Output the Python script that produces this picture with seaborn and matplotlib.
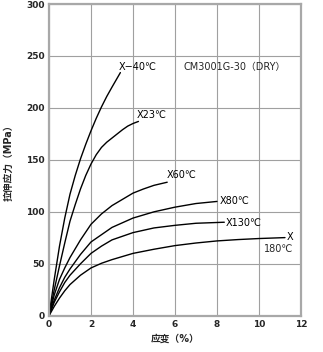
import matplotlib.pyplot as plt
import seaborn as sns
import pandas as pd

# strain (%) / stress (MPa), one pair of lists per temperature
strain_m40 = [0, 0.25, 0.5, 0.75, 1.0, 1.25, 1.5, 1.75, 2.0, 2.25, 2.5, 2.75, 3.0, 3.2, 3.4]
stress_m40 = [0, 35, 67, 94, 117, 135, 151, 165, 178, 190, 201, 211, 220, 227, 234]

strain_23 = [0, 0.25, 0.5, 0.75, 1.0, 1.25, 1.5, 1.75, 2.0, 2.25, 2.5, 2.75, 3.0, 3.25, 3.5, 3.75, 4.0, 4.26]
stress_23 = [0, 25, 48, 70, 91, 107, 122, 135, 146, 155, 162, 167, 171, 175, 179, 182.5, 185, 187]

strain_60 = [0, 0.25, 0.5, 0.75, 1.0, 1.5, 2.0, 2.5, 3.0, 3.5, 4.0, 4.5, 5.0, 5.63]
stress_60 = [0, 20, 35, 46, 56, 73, 88, 98, 106, 112, 118, 122, 125.5, 128.5]

strain_80 = [0, 0.25, 0.5, 0.75, 1.0, 1.5, 2.0, 2.5, 3.0, 4.0, 5.0, 6.0, 7.0, 8.0]
stress_80 = [0, 15, 27, 37, 45, 59, 71, 78, 85, 94, 100, 104.5, 108, 110]

strain_130 = [0, 0.25, 0.5, 0.75, 1.0, 1.5, 2.0, 2.5, 3.0, 4.0, 5.0, 6.0, 7.0, 8.35]
stress_130 = [0, 13, 23, 32, 39, 50, 60, 67, 73, 80, 84.5, 87, 89, 90]

strain_180 = [0, 0.25, 0.5, 0.75, 1.0, 1.5, 2.0, 2.5, 3.0, 4.0, 5.0, 6.0, 7.0, 8.0, 9.0, 10.0, 11.24]
stress_180 = [0, 9, 17, 24, 30, 39, 46, 50.5, 54, 60, 64, 67.5, 70, 72, 73.3, 74.3, 75.2]

series = {
    "-40": (strain_m40, stress_m40),
    "23": (strain_23, stress_23),
    "60": (strain_60, stress_60),
    "80": (strain_80, stress_80),
    "130": (strain_130, stress_130),
    "180": (strain_180, stress_180),
}

title = "CM3001G-30\uff08DRY\uff09"
x_label = "\u5e94\u53d8\uff08%\uff09"
y_label = "\u62c9\u4f38\u5e94\u529b\uff08MPa\uff09"

sns.set_style("white")
plt.rcParams['font.family'] = ['DejaVu Sans', 'Noto Sans CJK SC']

fig = plt.figure(figsize=(3.23, 3.52), dpi=100)
ax = fig.add_axes([0.1517, 0.103, 0.780, 0.8856])

for name, (xs, ys) in series.items():
    df = pd.DataFrame({"strain": xs, "stress": ys})
    sns.lineplot(x="strain", y="stress", data=df, ax=ax, color="black",
                 linewidth=1.0, sort=False, estimator=None)

# curve end labels
lab_kw = dict(fontsize=7, va="center", ha="left", color="black")
ax.text(3.33, 239, "X\u221240\u2103", **lab_kw)
ax.text(4.2, 193, "X23\u2103", **lab_kw)
ax.text(5.6, 135, "X60\u2103", **lab_kw)
ax.text(8.15, 110.7, "X80\u2103", **lab_kw)
ax.text(8.42, 89.7, "X130\u2103", **lab_kw)
ax.text(11.3, 75.5, "X", **lab_kw)
ax.text(11.65, 64.5, "180\u2103", fontsize=7, va="center", ha="right")
ax.text(6.4, 239, title, fontsize=7, va="center", ha="left")

ax.set_xlim(0, 12)
ax.set_ylim(0, 300)
ax.set_xticks(range(0, 13, 2))
ax.set_yticks(range(0, 301, 50))
ax.grid(True, color="#a0a0a0", linewidth=0.8)
ax.tick_params(length=0, labelsize=6.5, pad=3)
for lab in ax.get_xticklabels() + ax.get_yticklabels():
    lab.set_fontweight("bold")
for sp in ax.spines.values():
    sp.set_color("#a8a8a8")
    sp.set_linewidth(1.6)

ax.set_xlabel(x_label, fontsize=7, fontweight="bold")
ax.set_ylabel(y_label, fontsize=7, fontweight="bold")
ax.xaxis.set_label_coords(0.5, -0.058)
ax.yaxis.set_label_coords(-0.14, 0.5)

plt.savefig("out.png", dpi=100)
